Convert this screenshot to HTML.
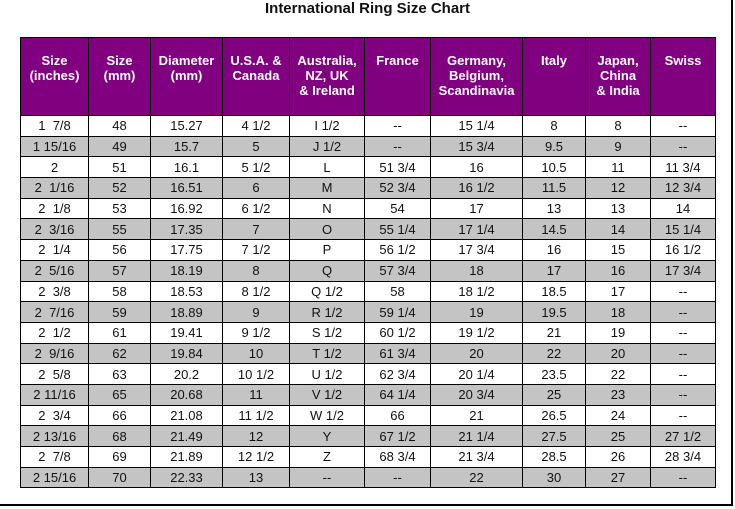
<!DOCTYPE html>
<html><head><style>
body{margin:0;width:735px;height:509px;background:#fff;position:relative;overflow:hidden;font-family:"Liberation Sans",Arial,sans-serif}
.frame{position:absolute;left:-2px;top:-2px;width:733px;height:506px;border-right:2px solid #000;border-bottom:2px solid #000}
h1{position:absolute;left:0;width:735px;top:0;margin:0;text-align:center;font-size:15px;font-weight:bold;line-height:18px;color:#111}
table{position:absolute;left:20px;top:37px;border-collapse:collapse;table-layout:fixed;width:695px}
td,th{border:1px solid #000;text-align:center;font-size:13px;padding:0;color:#111}
th{background:#800080;color:#fff;font-weight:bold;height:78px;vertical-align:top;padding-top:15px;box-sizing:border-box;line-height:15px}
td{height:19.7px;line-height:19px}
tr.g td{background:#c4c4c4}
</style></head><body>
<div class="frame"></div>
<h1>International Ring Size Chart</h1>
<table>
<colgroup><col style="width:68px"><col style="width:62px"><col style="width:72px"><col style="width:67px"><col style="width:75px"><col style="width:66px"><col style="width:92px"><col style="width:63px"><col style="width:65px"><col style="width:65px"></colgroup>
<tr><th>Size<br>(inches)</th><th>Size<br>(mm)</th><th>Diameter<br>(mm)</th><th>U.S.A. &amp;<br>Canada</th><th>Australia,<br>NZ, UK<br>&amp; Ireland</th><th>France</th><th>Germany,<br>Belgium,<br>Scandinavia</th><th>Italy</th><th>Japan,<br>China<br>&amp; India</th><th>Swiss</th></tr>
<tr><td>1&nbsp;&nbsp;7/8</td><td>48</td><td>15.27</td><td>4 1/2</td><td>I 1/2</td><td>--</td><td>15 1/4</td><td>8</td><td>8</td><td>--</td></tr>
<tr class="g"><td>1 15/16</td><td>49</td><td>15.7</td><td>5</td><td>J 1/2</td><td>--</td><td>15 3/4</td><td>9.5</td><td>9</td><td>--</td></tr>
<tr><td>2</td><td>51</td><td>16.1</td><td>5 1/2</td><td>L</td><td>51 3/4</td><td>16</td><td>10.5</td><td>11</td><td>11 3/4</td></tr>
<tr class="g"><td>2&nbsp;&nbsp;1/16</td><td>52</td><td>16.51</td><td>6</td><td>M</td><td>52 3/4</td><td>16 1/2</td><td>11.5</td><td>12</td><td>12 3/4</td></tr>
<tr><td>2&nbsp;&nbsp;1/8</td><td>53</td><td>16.92</td><td>6 1/2</td><td>N</td><td>54</td><td>17</td><td>13</td><td>13</td><td>14</td></tr>
<tr class="g"><td>2&nbsp;&nbsp;3/16</td><td>55</td><td>17.35</td><td>7</td><td>O</td><td>55 1/4</td><td>17 1/4</td><td>14.5</td><td>14</td><td>15 1/4</td></tr>
<tr><td>2&nbsp;&nbsp;1/4</td><td>56</td><td>17.75</td><td>7 1/2</td><td>P</td><td>56 1/2</td><td>17 3/4</td><td>16</td><td>15</td><td>16 1/2</td></tr>
<tr class="g"><td>2&nbsp;&nbsp;5/16</td><td>57</td><td>18.19</td><td>8</td><td>Q</td><td>57 3/4</td><td>18</td><td>17</td><td>16</td><td>17 3/4</td></tr>
<tr><td>2&nbsp;&nbsp;3/8</td><td>58</td><td>18.53</td><td>8 1/2</td><td>Q 1/2</td><td>58</td><td>18 1/2</td><td>18.5</td><td>17</td><td>--</td></tr>
<tr class="g"><td>2&nbsp;&nbsp;7/16</td><td>59</td><td>18.89</td><td>9</td><td>R 1/2</td><td>59 1/4</td><td>19</td><td>19.5</td><td>18</td><td>--</td></tr>
<tr><td>2&nbsp;&nbsp;1/2</td><td>61</td><td>19.41</td><td>9 1/2</td><td>S 1/2</td><td>60 1/2</td><td>19 1/2</td><td>21</td><td>19</td><td>--</td></tr>
<tr class="g"><td>2&nbsp;&nbsp;9/16</td><td>62</td><td>19.84</td><td>10</td><td>T 1/2</td><td>61 3/4</td><td>20</td><td>22</td><td>20</td><td>--</td></tr>
<tr><td>2&nbsp;&nbsp;5/8</td><td>63</td><td>20.2</td><td>10 1/2</td><td>U 1/2</td><td>62 3/4</td><td>20 1/4</td><td>23.5</td><td>22</td><td>--</td></tr>
<tr class="g"><td>2 11/16</td><td>65</td><td>20.68</td><td>11</td><td>V 1/2</td><td>64 1/4</td><td>20 3/4</td><td>25</td><td>23</td><td>--</td></tr>
<tr><td>2&nbsp;&nbsp;3/4</td><td>66</td><td>21.08</td><td>11 1/2</td><td>W 1/2</td><td>66</td><td>21</td><td>26.5</td><td>24</td><td>--</td></tr>
<tr class="g"><td>2 13/16</td><td>68</td><td>21.49</td><td>12</td><td>Y</td><td>67 1/2</td><td>21 1/4</td><td>27.5</td><td>25</td><td>27 1/2</td></tr>
<tr><td>2&nbsp;&nbsp;7/8</td><td>69</td><td>21.89</td><td>12 1/2</td><td>Z</td><td>68 3/4</td><td>21 3/4</td><td>28.5</td><td>26</td><td>28 3/4</td></tr>
<tr class="g"><td>2 15/16</td><td>70</td><td>22.33</td><td>13</td><td>--</td><td>--</td><td>22</td><td>30</td><td>27</td><td>--</td></tr>
</table>
</body></html>
